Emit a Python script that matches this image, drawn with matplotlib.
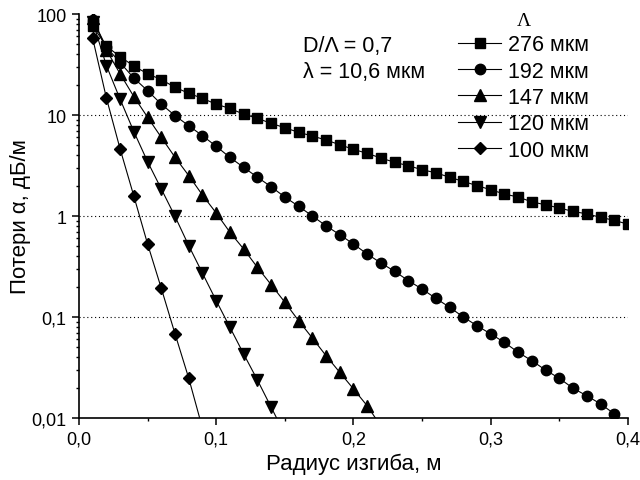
import numpy as np
import matplotlib
matplotlib.use('Agg')
import matplotlib.pyplot as plt
from matplotlib.ticker import MultipleLocator, LogLocator, FuncFormatter, NullFormatter

plt.rcParams['font.family'] = ['Liberation Sans', 'DejaVu Sans']

# losses (dB/m) vs bend radius, step 0.01 m starting at 0.01 m
# last value of each series lies just below the axis (line only, no marker)
loss_276 = [76, 48, 37.8, 30.5, 25.6, 22.4, 18.8, 16.4, 14.6, 12.8,
            11.6, 10.2, 9.27, 8.27, 7.48, 6.74, 6.2, 5.65, 5.08, 4.57,
            4.17, 3.75, 3.4, 3.15, 2.87, 2.68, 2.42, 2.2, 2.0, 1.82,
            1.65, 1.54, 1.38, 1.29, 1.2, 1.11, 1.05, 0.97, 0.905, 0.83]
loss_192 = [88, 47, 33, 23.2, 17.4, 12.8, 9.85, 7.83, 6.23, 4.9,
            3.8, 3.03, 2.42, 1.95, 1.54, 1.25, 1.0, 0.80, 0.653, 0.528,
            0.42, 0.343, 0.283, 0.229, 0.189, 0.153, 0.125, 0.1, 0.082, 0.068,
            0.056, 0.0447, 0.0369, 0.0298, 0.0247, 0.0197, 0.0166, 0.0138, 0.011, 0.0085]
loss_147 = [91, 44, 25.5, 15.2, 9.5, 6.0, 3.81, 2.51, 1.61, 1.07,
            0.69, 0.471, 0.31, 0.209, 0.14, 0.092, 0.062, 0.0414, 0.0283, 0.0194,
            0.0132, 0.0083]
loss_120 = [84, 30.8, 14.3, 6.84, 3.45, 1.85, 0.99, 0.508, 0.271, 0.145,
            0.079, 0.043, 0.0238, 0.0128, 0.0069]
loss_100 = [57.4, 14.7, 4.6, 1.57, 0.528, 0.192, 0.068, 0.0247, 0.0079]

series = [
    ('276 мкм', loss_276, 's', 6.5, False),
    ('192 мкм', loss_192, 'o', 7.5, True),
    ('147 мкм', loss_147, '^', 8.5, True),
    ('120 мкм', loss_120, 'v', 8.5, True),
    ('100 мкм', loss_100, 'D', 6.5, True),
]

fig = plt.figure(figsize=(6.4, 4.81), dpi=100)
ax = fig.add_axes([0.1234, 0.1289, 0.8578, 0.8399])

for label, y, mk, ms, tail in series:
    x = 0.01 * np.arange(1, len(y) + 1)
    ax.plot(x, y, color='black', lw=0.8, marker=mk, ms=ms,
            markevery=slice(0, len(y) - 1) if tail else None,
            label=label)

ax.set_yscale('log')
ax.set_xlim(0, 0.4)
ax.set_ylim(0.01, 100)

for lvl in [0.1, 1, 10]:
    ax.axhline(lvl, color='black', lw=0.8, ls=(0, (1, 2.5)), zorder=0)

comma = FuncFormatter(lambda v, p: ('%g' % v).replace('.', ','))
ax.xaxis.set_major_locator(MultipleLocator(0.1))
ax.xaxis.set_minor_locator(MultipleLocator(0.05))
ax.xaxis.set_major_formatter(FuncFormatter(lambda v, p: ('%.1f' % v).replace('.', ',')))
ax.yaxis.set_major_locator(LogLocator(base=10))
ax.yaxis.set_minor_locator(LogLocator(base=10, subs=np.arange(2, 10)))
ax.yaxis.set_major_formatter(comma)
ax.yaxis.set_minor_formatter(NullFormatter())

for s in ['top', 'right']:
    ax.spines[s].set_visible(False)
for s in ['left', 'bottom']:
    ax.spines[s].set_linewidth(1.2)
ax.tick_params(which='major', direction='out', length=5, width=1.1, labelsize=13, pad=4)
ax.tick_params(which='minor', direction='out', length=2.5, width=1.0)

ax.set_xlabel('Радиус изгиба, м', fontsize=16, labelpad=4)
ax.set_ylabel('Потери α, дБ/м', fontsize=16, labelpad=0)

ax.text(0.408, 0.922, 'D/Λ = 0,7', transform=ax.transAxes, fontsize=15.5, va='center')
ax.text(0.408, 0.857, 'λ = 10,6 мкм', transform=ax.transAxes, fontsize=15.5, va='center')

leg = ax.legend(loc='upper left', bbox_to_anchor=(0.671, 1.032), frameon=False,
                fontsize=15.5, handlelength=2.0, handletextpad=0.3,
                labelspacing=0.25, borderpad=0, title='Λ',
                title_fontproperties={'family': 'Liberation Serif', 'size': 14})

fig.savefig('out.png', dpi=100)
